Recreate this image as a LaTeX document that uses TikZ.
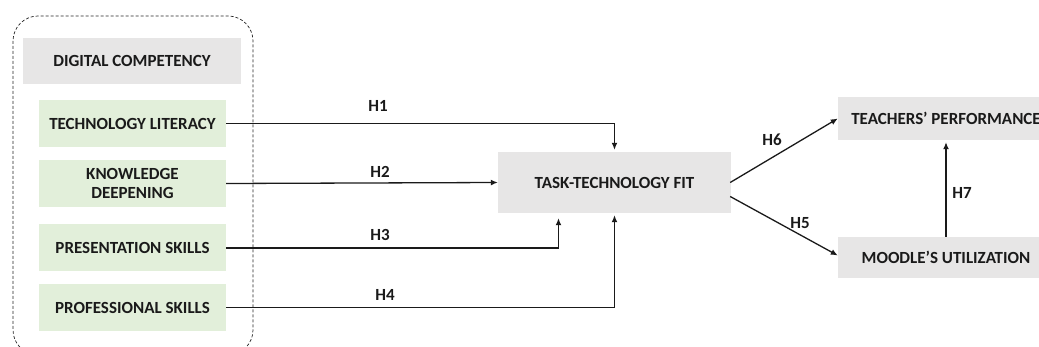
\documentclass[tikz,border=0pt]{standalone}
\usepackage{fontspec}
\setmainfont{Carlito}
\usetikzlibrary{arrows.meta}

\definecolor{boxgray}{HTML}{E7E6E6}
\definecolor{boxgreen}{HTML}{E2EFDA}
\definecolor{ink}{HTML}{1A1A1A}

\tikzset{
	graybox/.style={fill=boxgray,inner sep=0pt,align=center,text=ink},
	greenbox/.style={fill=boxgreen,inner sep=0pt,align=center,text=ink,minimum width=187pt,minimum height=47pt},
	hlabel/.style={text=ink,inner sep=1pt},
	path/.style={line width=1.3pt,ink,->}
}

\begin{document}
\begin{tikzpicture}[x=1pt,y=-1pt,>={Latex[length=7pt,width=6pt]},font=\fontsize{17}{19}\selectfont\bfseries]
\useasboundingbox (0,0) rectangle (1039,347);

%dashed frame round the competencies
\draw[densely dashed,line width=.7pt,black!85,rounded corners=25pt] (13,16) rectangle (253,355);

%digital competency and its four parts
\node[graybox,minimum width=218pt,minimum height=46pt] (dc) at (132,61) {DIGITAL COMPETENCY};
\foreach \n/\y/\t in {tl/123.5/{TECHNOLOGY LITERACY},kd/183.5/{KNOWLEDGE\\DEEPENING},ps/248/{PRESENTATION SKILLS},prs/307.5/{PROFESSIONAL SKILLS}}{
	\node[greenbox] (\n) at (132.5,\y) {\t};
}

%outcomes
\node[graybox,minimum width=233pt,minimum height=61pt] (ttf) at (614.5,182.5) {TASK-TECHNOLOGY FIT};
\node[graybox,minimum width=216pt,minimum height=43pt] (tp) at (946,118.5) {TEACHERS’ PERFORMANCE};
\node[graybox,minimum width=216pt,minimum height=41pt] (mu) at (946,257.5) {MOODLE’S UTILIZATION};

%hypothesis paths
\draw[path] (tl.east) -| ([yshift=2pt]ttf.north);
\draw[path] (kd.east) -- (ttf.west);
\draw[path] (ps.east) -| ([xshift=-56pt,yshift=-5pt]ttf.south);
\draw[path] (prs.east) -| ([yshift=-2pt]ttf.south);
\draw[path] ([xshift=-1pt]ttf.east) -- (tp.west);
\draw[path] ([xshift=-1pt,yshift=-14pt]ttf.east) -- ([yshift=2pt]mu.west);
\draw[path] (mu.north) -- ([yshift=-2pt]tp.south);

%labels
\node[hlabel] (h1) at (378,106) {H1};
\node[hlabel] (h2) at (380,172) {H2};
\node[hlabel] (h3) at (380,235) {H3};
\node[hlabel] (h4) at (385,295) {H4};
\node[hlabel] (h6) at (772,140) {H6};
\node[hlabel] (h5) at (800,223) {H5};
\node[hlabel] (h7) at (962,193) {H7};
\end{tikzpicture}
\end{document}
